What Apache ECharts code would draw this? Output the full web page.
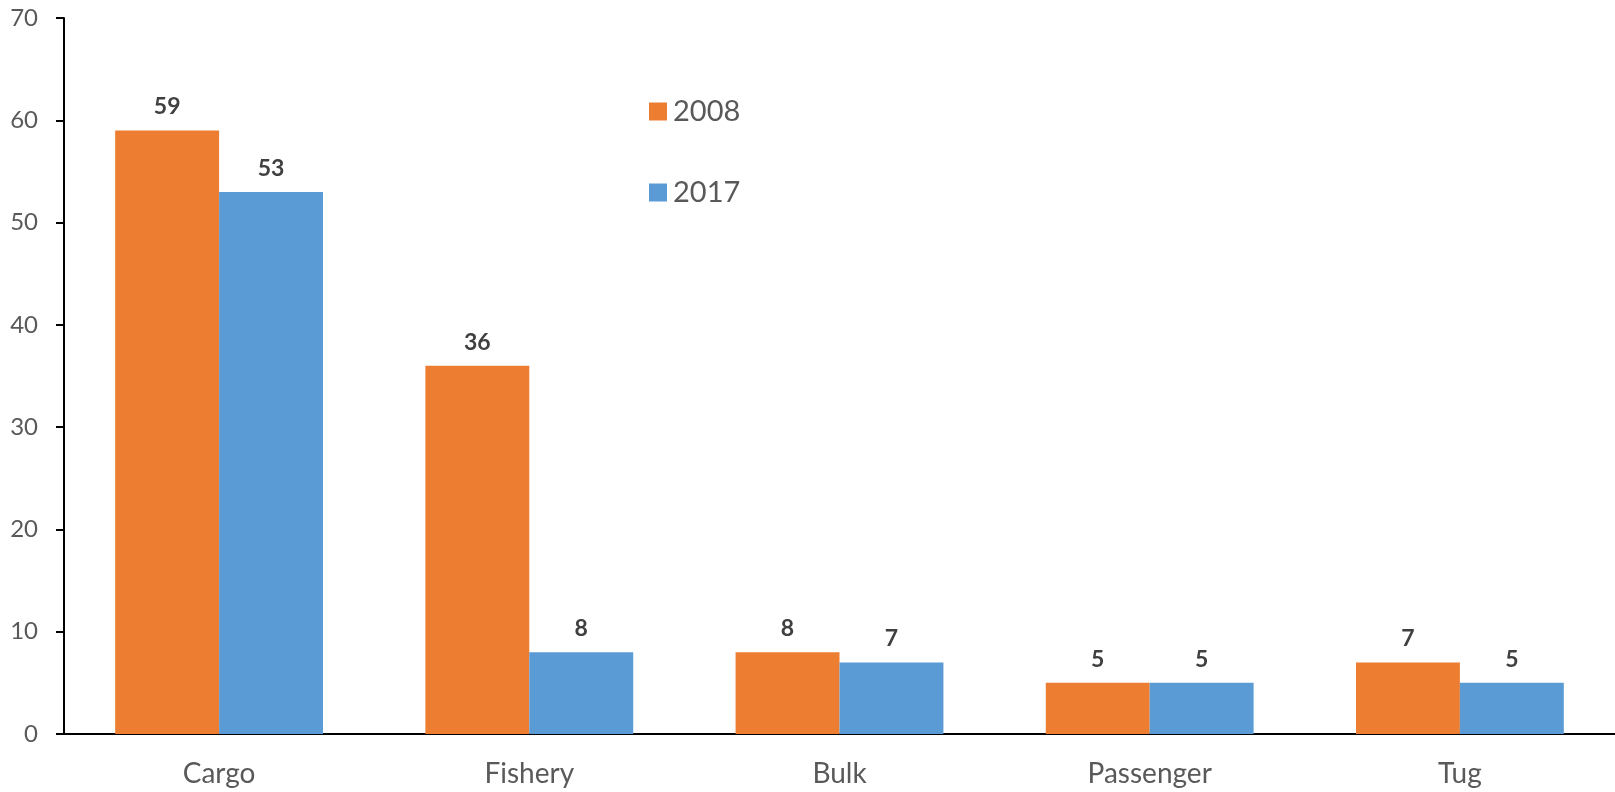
<!DOCTYPE html>
<html>
<head>
<meta charset="utf-8">
<script src="https://cdn.jsdelivr.net/npm/echarts@6/dist/echarts.min.js"></script>
<style>
  html, body { margin: 0; padding: 0; background: #fff; }
  #chart { width: 1615px; height: 792px; }
</style>
</head>
<body>
<div id="chart"></div>
<script>
// Vessel types and counts per year
const categories = ['Cargo', 'Fishery', 'Bulk', 'Passenger', 'Tug'];
const values2008 = [59, 36, 8, 5, 7];
const values2017 = [53, 8, 7, 5, 5];
const seriesNames = ['2008', '2017'];
const yTicks = { min: 0, max: 70, interval: 10 };

const FONT = 'Lato, "Open Sans", sans-serif';
const chart = echarts.init(document.getElementById('chart'), null, { renderer: 'canvas' });

const labelStyle = {
  show: true,
  position: 'top',
  distance: 12,
  fontFamily: FONT,
  fontSize: 23,
  fontWeight: 'bold',
  color: '#404040'
};

chart.setOption({
  animation: false,
  backgroundColor: '#ffffff',
  grid: { left: 64, right: 0, top: 18, bottom: 58, containLabel: false },
  legend: {
    orient: 'vertical',
    left: 644,
    top: 92,
    itemWidth: 18,
    itemHeight: 18,
    itemGap: 52,
    icon: 'rect',
    textStyle: { fontFamily: FONT, fontSize: 29, color: '#595959', padding: [0, 0, 0, 1] },
    data: seriesNames
  },
  xAxis: {
    type: 'category',
    data: categories,
    axisLine: { lineStyle: { color: '#000', width: 2 } },
    axisTick: { show: false },
    axisLabel: { fontFamily: FONT, fontSize: 28, color: '#595959', margin: 26 }
  },
  yAxis: {
    type: 'value',
    min: yTicks.min,
    max: yTicks.max,
    interval: yTicks.interval,
    axisLine: { show: true, lineStyle: { color: '#000', width: 2 } },
    axisTick: { show: true, inside: false, length: 8, lineStyle: { color: '#000', width: 2 } },
    splitLine: { show: false },
    axisLabel: { fontFamily: FONT, fontSize: 24, color: '#595959', margin: 26 }
  },
  series: [
    {
      name: seriesNames[0],
      type: 'bar',
      data: values2008,
      barGap: '0%',
      barCategoryGap: '33%',
      itemStyle: { color: '#ED7D31' },
      label: labelStyle
    },
    {
      name: seriesNames[1],
      type: 'bar',
      data: values2017,
      barGap: '0%',
      barCategoryGap: '33%',
      itemStyle: { color: '#5B9BD5' },
      label: labelStyle
    }
  ]
});
</script>
</body>
</html>
